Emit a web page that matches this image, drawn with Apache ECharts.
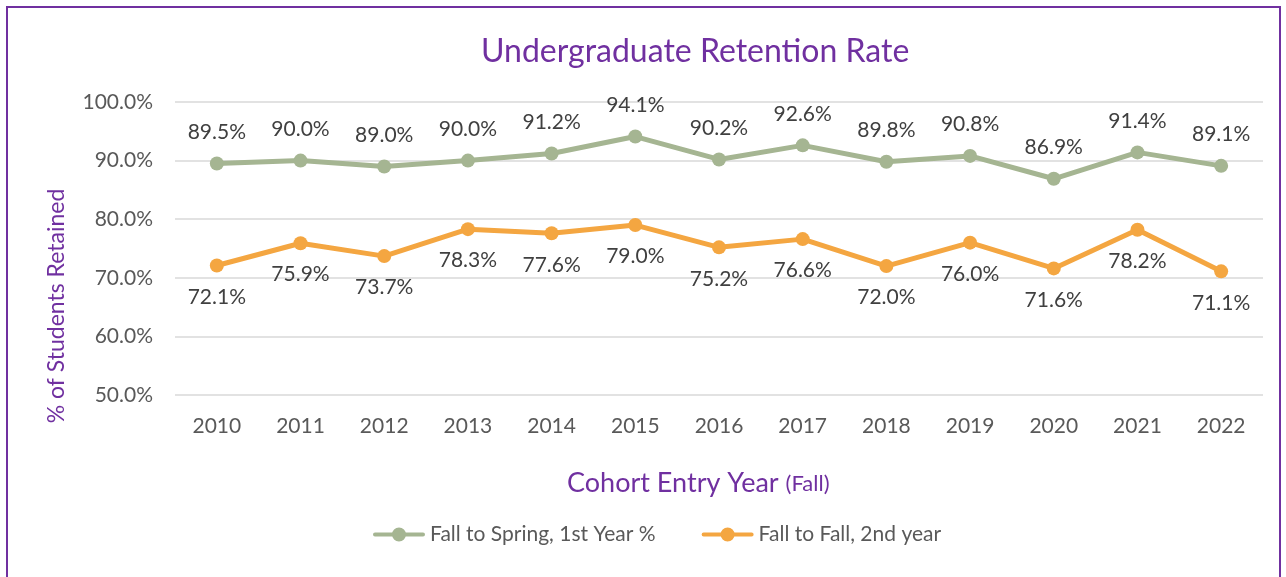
<!DOCTYPE html>
<html>
<head>
<meta charset="utf-8">
<script src="https://cdn.jsdelivr.net/npm/echarts@6/dist/echarts.min.js"></script>
<style>
  html, body { margin: 0; padding: 0; background: #fff; }
  #frame { position: absolute; left: 6px; top: 6px; width: 1275px; height: 580px; border: 2px solid #7030A0; border-bottom: none; box-sizing: border-box; }
  #chart { width: 1286px; height: 577px; position: absolute; left: 0; top: 0; }
</style>
</head>
<body>
<div id="frame"></div>
<div id="chart"></div>
<script>
// cohort years
const years = ['2010', '2011', '2012', '2013', '2014', '2015', '2016', '2017', '2018', '2019', '2020', '2021', '2022'];
// fall to spring, 1st year (%)
const fallToSpring = [89.5, 90.0, 89.0, 90.0, 91.2, 94.1, 90.2, 92.6, 89.8, 90.8, 86.9, 91.4, 89.1];
// fall to fall, 2nd year (%)
const fallToFall = [72.1, 75.9, 73.7, 78.3, 77.6, 79.0, 75.2, 76.6, 72.0, 76.0, 71.6, 78.2, 71.1];

const font = 'Lato, "Open Sans", sans-serif';
const purple = '#7030A0';
const labelSize = 21;
// line-with-marker legend icon (thick line + dot)
const legendIcon = 'path://M2,5 L50,5 A2,2 0 0,1 50,9 L2,9 A2,2 0 0,1 2,5 Z M26,0 A7,7 0 1,1 26,14 A7,7 0 1,1 26,0 Z';

const myChart = echarts.init(document.getElementById('chart'));
myChart.setOption({
    animation: false,
    textStyle: { fontFamily: font },
    title: {
        text: 'Undergraduate Retention Rate',
        left: 476,
        top: 31,
        textStyle: { color: purple, fontSize: 32, fontWeight: 'normal', fontFamily: font }
    },
    legend: {
        bottom: 27,
        left: 368,
        icon: legendIcon,
        itemWidth: 52,
        itemHeight: 14,
        itemGap: 46,
        textStyle: { color: '#595959', fontSize: labelSize, fontFamily: font },
        data: ['Fall to Spring, 1st Year %', 'Fall to Fall, 2nd year']
    },
    grid: { left: 175, right: 23, top: 102, bottom: 182 },
    xAxis: {
        type: 'category',
        data: years,
        boundaryGap: true,
        axisLine: { show: false },
        axisTick: { show: false },
        axisLabel: { color: '#595959', fontSize: labelSize, margin: 21, fontFamily: font }
    },
    yAxis: {
        type: 'value',
        min: 50,
        max: 100,
        interval: 10,
        axisLine: { show: false },
        axisTick: { show: false },
        splitLine: { lineStyle: { color: '#d9d9d9', width: 1.5 } },
        axisLabel: {
            color: '#595959', fontSize: labelSize, margin: 22, fontFamily: font,
            formatter: v => v.toFixed(1) + '%'
        }
    },
    graphic: [
        {
            type: 'text',
            left: 567,
            top: 470,
            style: {
                text: '{a|Cohort Entry Year }{b|(Fall)}',
                rich: {
                    a: { fill: purple, fontSize: 27, fontFamily: font },
                    b: { fill: purple, fontSize: 22, fontFamily: font }
                }
            }
        },
        {
            type: 'text',
            x: 57,
            y: 306,
            rotation: Math.PI / 2,
            style: {
                text: '% of Students Retained',
                fill: purple,
                fontSize: 23,
                fontFamily: font,
                align: 'center',
                verticalAlign: 'middle'
            }
        }
    ],
    series: [
        {
            name: 'Fall to Spring, 1st Year %',
            type: 'line',
            data: fallToSpring,
            symbol: 'circle',
            symbolSize: 14,
            itemStyle: { color: '#A5B592' },
            lineStyle: { width: 5, color: '#A5B592' },
            label: {
                show: true,
                position: 'top',
                distance: 14,
                color: '#404040',
                fontSize: labelSize,
                fontFamily: font,
                formatter: p => p.value.toFixed(1) + '%'
            }
        },
        {
            name: 'Fall to Fall, 2nd year',
            type: 'line',
            data: fallToFall,
            symbol: 'circle',
            symbolSize: 14,
            itemStyle: { color: '#F4A641' },
            lineStyle: { width: 5, color: '#F4A641' },
            label: {
                show: true,
                position: 'bottom',
                distance: 14,
                color: '#404040',
                fontSize: labelSize,
                fontFamily: font,
                formatter: p => p.value.toFixed(1) + '%'
            }
        }
    ]
});
</script>
</body>
</html>
